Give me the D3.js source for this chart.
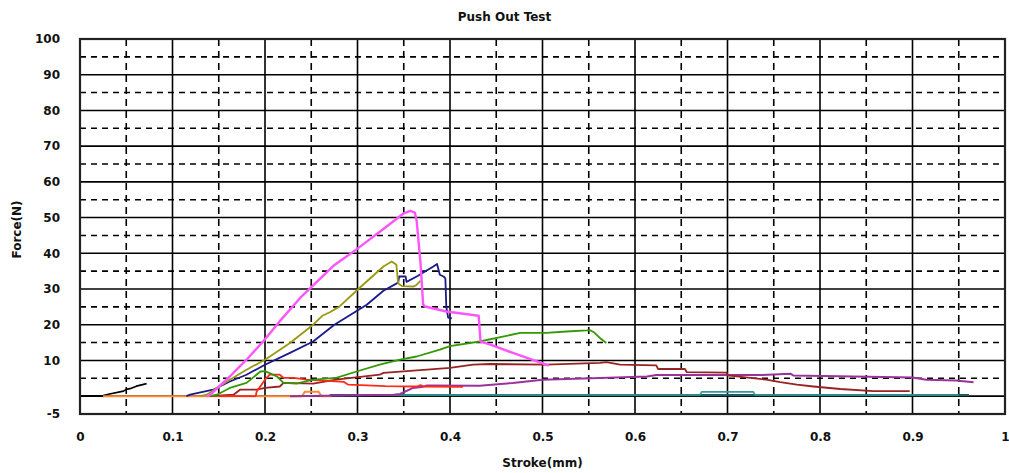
<!DOCTYPE html>
<html>
<head>
<meta charset="utf-8">
<script src="https://cdn.jsdelivr.net/npm/d3@7"></script>
<style>
  html, body { margin: 0; padding: 0; background: #fff; }
  svg { display: block; }
  text { font-family: "DejaVu Sans", "Liberation Sans", Arial, sans-serif; fill: #111; }
</style>
</head>
<body>
<svg id="chart" width="1009" height="473"></svg>
<script>
// ---- Data ----
const title = "Push Out Test";
const xLabel = "Stroke(mm)";
const yLabel = "Force(N)";
const xTickValues = [0, 0.1, 0.2, 0.3, 0.4, 0.5, 0.6, 0.7, 0.8, 0.9, 1];
const xTickLabels = ["0", "0.1", "0.2", "0.3", "0.4", "0.5", "0.6", "0.7", "0.8", "0.9", "1"];
const yTickValues = [100, 90, 80, 70, 60, 50, 40, 30, 20, 10, -5];
const yTickLabels = ["100", "90", "80", "70", "60", "50", "40", "30", "20", "10", "-5"];

const blackX = [0, 0.025, 0.032, 0.047, 0.05, 0.054, 0.061, 0.072];
const blackY = [0, 0.2, 0.6, 1.4, 1.9, 2.1, 2.8, 3.5];

const orangeX = [0.025, 0.24, 0.243, 0.258, 0.261, 0.272];
const orangeY = [0, 0, 1.2, 1.2, 0, 0];

const tealX = [0.27, 0.961];
const tealY = [0.3, 0.3];

const teal2X = [0.30, 0.67, 0.672, 0.728, 0.73, 0.95];
const teal2Y = [0.3, 0.3, 1.2, 1.2, 0.3, 0.3];

const magentaX = [0.137, 0.141, 0.162, 0.18, 0.198, 0.216, 0.238, 0.256, 0.274, 0.3, 0.328, 0.35, 0.357, 0.362, 0.364, 0.368, 0.371, 0.373, 0.396, 0.431, 0.433, 0.443, 0.468, 0.504, 0.507];
const magentaY = [0, 0.4, 5.5, 10.2, 15.3, 21, 27.5, 32, 36.5, 41.3, 46.8, 51.2, 51.9, 51.4, 49, 37.7, 25.6, 25.1, 23.7, 22.5, 15.3, 14.5, 12.1, 8.8, 8.6];

const oliveX = [0.13, 0.137, 0.162, 0.18, 0.2, 0.227, 0.252, 0.262, 0.27, 0.28, 0.303, 0.328, 0.337, 0.342, 0.344, 0.348, 0.361, 0.364, 0.368];
const oliveY = [0, 0.4, 4.6, 7.4, 10.2, 14.9, 20, 22.5, 23.5, 25, 30.5, 36.3, 37.7, 36.8, 31.6, 30.8, 30.7, 31.2, 32.3];

const navyX = [0.115, 0.119, 0.144, 0.162, 0.18, 0.2, 0.227, 0.252, 0.275, 0.31, 0.328, 0.342, 0.344, 0.345, 0.352, 0.353, 0.364, 0.382, 0.386, 0.389, 0.393, 0.395, 0.396, 0.398, 0.402];
const navyY = [0, 0.4, 1.8, 4.1, 6, 8.8, 12.1, 15.3, 20, 25.6, 29.5, 31.5, 31.8, 33.5, 33.5, 32, 33.5, 36.3, 37, 34, 33.5, 33, 25, 22, 21.8];

const greenX = [0.14, 0.148, 0.162, 0.18, 0.195, 0.2, 0.213, 0.22, 0.234, 0.252, 0.277, 0.299, 0.324, 0.346, 0.364, 0.389, 0.4, 0.432, 0.476, 0.504, 0.526, 0.548, 0.551, 0.556, 0.562, 0.569];
const greenY = [0, 0.4, 2.3, 3.7, 6.9, 7, 5.5, 3.7, 3.5, 4.6, 5.1, 6.9, 8.8, 10.2, 11.1, 13, 14, 15.3, 17.7, 17.7, 18.1, 18.4, 18.5, 17.8, 16.3, 14.9];

const redX = [0.15, 0.19, 0.191, 0.2, 0.205, 0.216, 0.22, 0.231, 0.245, 0.285, 0.29, 0.33, 0.365, 0.368, 0.372, 0.414];
const redY = [0, 0, 1.3, 4.6, 6, 6, 5.1, 5.1, 4.6, 4.0, 3.2, 2.8, 2.7, 3.1, 2.7, 2.6];

const brownX = [0.14, 0.166, 0.173, 0.191, 0.2, 0.216, 0.22, 0.252, 0.277, 0.324, 0.328, 0.375, 0.4, 0.425, 0.443, 0.504, 0.562, 0.569, 0.584, 0.623, 0.625, 0.654, 0.656, 0.699, 0.70, 0.742, 0.757, 0.775, 0.793, 0.822, 0.858, 0.897];
const brownY = [0, 0.4, 1.8, 1.8, 2.3, 2.7, 3.7, 3.5, 4.6, 6, 6.5, 7.4, 7.9, 8.8, 9.0, 8.8, 9.3, 9.5, 8.8, 8.6, 7.6, 7.6, 6.7, 6.6, 5.8, 4.6, 3.9, 3.2, 2.7, 2.0, 1.4, 1.4];

const purpleX = [0.227, 0.339, 0.346, 0.36, 0.371, 0.375, 0.432, 0.468, 0.5, 0.562, 0.613, 0.623, 0.67, 0.735, 0.768, 0.771, 0.836, 0.9, 0.915, 0.947, 0.966];
const purpleY = [0, 0.4, 0.6, 2.3, 2.6, 3.0, 2.9, 3.7, 4.6, 5.1, 5.5, 5.9, 5.9, 5.9, 6.3, 5.8, 5.5, 5.2, 4.6, 4.4, 3.9];

const seriesList = [
  { name: "black",   xs: blackX,   ys: blackY,   color: "#000000", w: 1.6 },
  { name: "orange",  xs: orangeX,  ys: orangeY,  color: "#FF8C33", w: 2 },
  { name: "teal",    xs: tealX,    ys: tealY,    color: "#1E5E5E", w: 2.2 },
  { name: "teal2",   xs: teal2X,   ys: teal2Y,   color: "#339999", w: 1.6 },
  { name: "purple",  xs: purpleX,  ys: purpleY,  color: "#993399", w: 2 },
  { name: "brown",   xs: brownX,   ys: brownY,   color: "#992222", w: 1.8 },
  { name: "red",     xs: redX,     ys: redY,     color: "#FF2A1A", w: 1.8 },
  { name: "green",   xs: greenX,   ys: greenY,   color: "#339900", w: 1.8 },
  { name: "navy",    xs: navyX,    ys: navyY,    color: "#1A1A8C", w: 1.8 },
  { name: "olive",   xs: oliveX,   ys: oliveY,   color: "#999911", w: 1.8 },
  { name: "magenta", xs: magentaX, ys: magentaY, color: "#FF55FF", w: 2.4 }
];

// ---- Layout ----
const W = 1009, H = 473;
const margin = { left: 80, right: 4, top: 39, bottom: 59 };
const svg = d3.select("#chart");

const x = d3.scaleLinear().domain([0, 1]).range([margin.left, W - margin.right]);
const y = d3.scaleLinear().domain([-5, 100]).range([H - margin.bottom, margin.top]);

const grid = svg.append("g");
// minor dashed grid
const minorX = d3.range(0.05, 1, 0.1);
const minorY = d3.range(5, 100, 10);
grid.selectAll("line.mx").data(minorX).join("line")
  .attr("x1", d => x(d)).attr("x2", d => x(d))
  .attr("y1", y(100)).attr("y2", y(-5))
  .attr("stroke", "#000").attr("stroke-width", 1.6).attr("stroke-dasharray", "7,5");
grid.selectAll("line.my").data(minorY).join("line")
  .attr("x1", x(0)).attr("x2", x(1))
  .attr("y1", d => y(d)).attr("y2", d => y(d))
  .attr("stroke", "#000").attr("stroke-width", 1.6).attr("stroke-dasharray", "6,5");
// major solid grid
const majorX = d3.range(1, 10).map(i => i / 10);
const majorY = d3.range(0, 100, 10);
grid.selectAll("line.Mx").data(majorX).join("line")
  .attr("x1", d => x(d)).attr("x2", d => x(d))
  .attr("y1", y(100)).attr("y2", y(-5))
  .attr("stroke", "#000").attr("stroke-width", 1.6);
grid.selectAll("line.My").data(majorY).join("line")
  .attr("x1", x(0)).attr("x2", x(1))
  .attr("y1", d => y(d)).attr("y2", d => y(d))
  .attr("stroke", "#000").attr("stroke-width", 1.6);

// series
const line = d3.line().x(d => x(d[0])).y(d => y(d[1]));
svg.append("g").selectAll("path").data(seriesList).join("path")
  .attr("d", s => line(s.xs.map((v, i) => [v, s.ys[i]])))
  .attr("fill", "none")
  .attr("stroke", s => s.color)
  .attr("stroke-width", s => s.w)
  .attr("stroke-linejoin", "round");

// frame
svg.append("rect")
  .attr("x", x(0)).attr("y", y(100))
  .attr("width", x(1) - x(0)).attr("height", y(-5) - y(100))
  .attr("fill", "none").attr("stroke", "#222").attr("stroke-width", 2.2);

// axes
const xAxis = d3.axisBottom(x).tickValues(xTickValues)
  .tickFormat((d, i) => xTickLabels[i]).tickSize(0).tickPadding(18);
const gx = svg.append("g").attr("transform", `translate(0,${y(-5)})`).call(xAxis);
gx.select(".domain").remove();
gx.selectAll("text").attr("font-size", 12).attr("font-weight", "bold")
  .attr("font-family", "DejaVu Sans, sans-serif").attr("fill", "#111");

const yAxis = d3.axisLeft(y).tickValues(yTickValues)
  .tickFormat((d, i) => yTickLabels[i]).tickSize(0).tickPadding(20);
const gy = svg.append("g").attr("transform", `translate(${x(0)},0)`).call(yAxis);
gy.select(".domain").remove();
gy.selectAll("text").attr("font-size", 12).attr("font-weight", "bold")
  .attr("font-family", "DejaVu Sans, sans-serif").attr("fill", "#111");

// titles
svg.append("text").attr("x", W / 2).attr("y", 21).attr("text-anchor", "middle")
  .attr("font-size", 12).attr("font-weight", "bold").text(title);
svg.append("text").attr("x", (x(0) + x(1)) / 2).attr("y", 467).attr("text-anchor", "middle")
  .attr("font-size", 12).attr("font-weight", "bold").text(xLabel);
svg.append("text").attr("transform", `translate(21,${(y(100) + y(-5)) / 2 + 3}) rotate(-90)`)
  .attr("text-anchor", "middle").attr("font-size", 12).attr("font-weight", "bold").text(yLabel);
</script>
</body>
</html>
